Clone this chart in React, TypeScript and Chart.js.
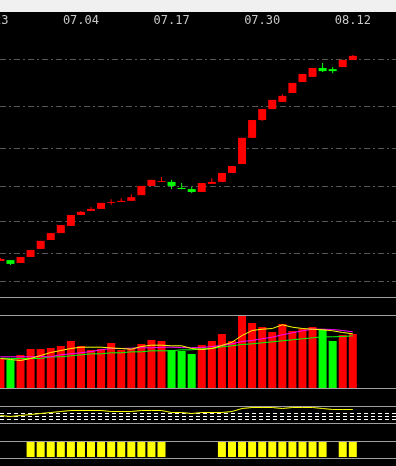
import React, { useEffect, useRef } from 'react';
import { Chart, registerables } from 'chart.js';

Chart.register(...registerables);

// ---------- data ----------
const TICK_INDEX = [-1, 8, 17, 26, 35];
const TICK_LABELS = ['06.23', '07.04', '07.17', '07.30', '08.12'];

const OPEN = [10.73, 10.76, 10.66, 10.87, 11.15, 11.46, 11.70, 11.95, 12.33, 12.47, 12.54, 12.75, 12.78, 12.82, 13.02, 13.34, 13.48, 13.48, 13.27, 13.23, 13.13, 13.41, 13.48, 13.79, 14.10, 15.01, 15.63, 16.01, 16.26, 16.57, 16.95, 17.13, 17.44, 17.40, 17.47, 17.72];
const HIGH = [10.83, 10.76, 10.87, 11.11, 11.43, 11.70, 11.98, 12.33, 12.47, 12.61, 12.75, 12.88, 12.92, 13.06, 13.34, 13.55, 13.65, 13.55, 13.44, 13.30, 13.44, 13.61, 13.79, 14.03, 15.01, 15.63, 16.01, 16.33, 16.53, 16.92, 17.23, 17.44, 17.61, 17.47, 17.72, 17.89];
const LOW = [10.73, 10.59, 10.66, 10.87, 11.15, 11.46, 11.70, 11.95, 12.33, 12.47, 12.54, 12.68, 12.78, 12.82, 13.02, 13.34, 13.48, 13.23, 13.23, 13.09, 13.13, 13.41, 13.48, 13.79, 14.10, 15.01, 15.60, 16.01, 16.26, 16.57, 16.95, 17.13, 17.30, 17.26, 17.47, 17.72];
const CLOSE = [10.80, 10.63, 10.87, 11.11, 11.43, 11.70, 11.98, 12.33, 12.44, 12.54, 12.75, 12.78, 12.82, 12.95, 13.34, 13.55, 13.51, 13.34, 13.23, 13.13, 13.44, 13.48, 13.79, 14.03, 15.01, 15.63, 16.01, 16.33, 16.47, 16.92, 17.23, 17.44, 17.33, 17.33, 17.72, 17.86];

const PRICE_GRID = [10.0, 11.0, 12.1, 13.31, 14.64, 16.11, 17.72];

const VOLUME = [29, 28, 33, 39, 39, 40, 42, 47, 42, 38, 39, 45, 38, 39, 44, 48, 47, 38, 37, 34, 43, 47, 54, 47, 72, 65, 61, 56, 64, 57, 59, 61, 59, 47, 53, 54];
const VOL_MA5 = [29.5, 28.5, 27.5, 29.5, 32.5, 35.5, 37.5, 39.5, 40.8, 40.8, 40.8, 40, 39.5, 38.8, 41.5, 42.8, 42.8, 42.2, 42.2, 39.5, 38.5, 39.5, 42.5, 45.8, 52.5, 57.5, 58.8, 59.5, 63.2, 60.8, 59.5, 58.8, 58.2, 57.2, 55.5, 54.2];
const VOL_MA10 = [31.2, 31.2, 31.2, 31.2, 31.5, 31.2, 33.2, 34.2, 35.2, 36.5, 38.2, 39.5, 39.5, 39.8, 40.2, 40.2, 40.8, 40.8, 40.5, 40.2, 40.5, 41.5, 42.5, 44.2, 46.5, 47.5, 49.2, 50.8, 53.2, 55.2, 57.2, 58.8, 58.8, 58.5, 57.5, 56.2];
const VOL_MA20 = [29.8, 29.5, 29.5, 29.5, 29.5, 31.2, 31.2, 32.2, 33.2, 34.2, 34.2, 35.2, 35.2, 36.2, 36.2, 37.2, 37.2, 37.2, 38.2, 38.2, 39.2, 39.5, 41.2, 42.2, 43.5, 44.2, 45.2, 46.2, 47.2, 48.2, 49.2, 50.2, 51.2, 51.2, 51.5, 52.2];

const INDICATOR = [7.5, 6.5, 7.5, 8.5, 9.5, 10.5, 11.5, 12.5, 12.5, 12.5, 12.5, 11.5, 11.5, 11.5, 12.5, 12.5, 12.5, 10.5, 10.5, 9.5, 10.5, 10.5, 10.5, 11.5, 14.5, 15.5, 15.5, 15.5, 14.5, 15.5, 15.5, 15.5, 14.5, 13.5, 13.5, 13.5];
const INDICATOR_LEVELS = [3.5, 6.5, 9.5];

const SIGNAL = [null, null, null, 1, 1, 1, 1, 1, 1, 1, 1, 1, 1, 1, 1, 1, 1, null, null, null, null, null, 1, 1, 1, 1, 1, 1, 1, 1, 1, 1, 1, null, 1, 1];

// ---------- styling ----------
const RED = '#ff0000';
const GREEN = '#00ff00';
const X_MIN = -0.04;
const X_MAX = 39.29;
const W = 396;

const isUp = (i: number) => CLOSE[i] >= OPEN[i];
const candleColor = (i: number) => (isUp(i) ? RED : GREEN);
const idx = OPEN.map((_, i) => i);

const baseOptions = () => ({
  responsive: false,
  maintainAspectRatio: false,
  animation: false as const,
  events: [] as any[],
  layout: { padding: 0 },
  plugins: { legend: { display: false }, tooltip: { enabled: false } },
});

const hiddenX = () => ({ type: 'linear' as const, min: X_MIN, max: X_MAX, display: false, offset: false });

function ChartCanvas({ top, height, config }: { top: number; height: number; config: () => any }) {
  const ref = useRef<HTMLCanvasElement>(null);
  useEffect(() => {
    const chart = new Chart(ref.current as HTMLCanvasElement, config());
    return () => chart.destroy();
  }, []);
  return (
    <canvas
      ref={ref}
      width={W}
      height={height}
      style={{ position: 'absolute', left: 0, top, width: W, height, display: 'block' }}
    />
  );
}

const mainConfig = () => ({
  type: 'bar',
  data: {
    datasets: [
      {
        label: 'body',
        data: idx.map((i) => ({ x: i, y: [OPEN[i], CLOSE[i]] })),
        backgroundColor: idx.map(candleColor),
        barThickness: 8,
        grouped: false,
        borderWidth: 0,
        inflateAmount: 0,
        order: 1,
      },
      {
        label: 'wick',
        data: idx.map((i) => ({ x: i, y: [LOW[i], HIGH[i]] })),
        backgroundColor: idx.map(candleColor),
        barThickness: 1,
        grouped: false,
        borderWidth: 0,
        inflateAmount: 0,
        order: 2,
      },
    ],
  },
  options: {
    ...baseOptions(),
    scales: {
      x: {
        type: 'linear',
        position: 'top',
        min: X_MIN,
        max: X_MAX,
        offset: false,
        grid: { display: false, drawTicks: false },
        border: { display: false },
        ticks: {
          autoSkip: false,
          maxRotation: 0,
          padding: 0,
          color: '#c8c8c8',
          font: { family: '"DejaVu Sans Mono", monospace', size: 12 },
          callback: (v: number) => {
            const k = TICK_INDEX.indexOf(v);
            return k >= 0 ? TICK_LABELS[k] : '';
          },
        },
        afterBuildTicks: (s: any) => {
          s.ticks = TICK_INDEX.map((v) => ({ value: v }));
        },
        afterFit: (s: any) => {
          s.height = 16;
          s.paddingLeft = 0;
          s.paddingRight = 0;
        },
      },
      y: {
        type: 'linear',
        min: 9.4786,
        max: 18.829,
        grid: { color: '#555555', lineWidth: 1, drawTicks: false },
        border: { display: false, dash: [6, 3, 2, 3] },
        ticks: { display: false },
        afterBuildTicks: (s: any) => {
          s.ticks = PRICE_GRID.map((v) => ({ value: v }));
        },
        afterFit: (s: any) => {
          s.width = 0;
        },
      },
    },
  },
});

const volumeConfig = () => {
  const line = (label: string, arr: number[], color: string) => ({
    type: 'line',
    label,
    data: idx.map((i) => ({ x: i, y: arr[i] })),
    borderColor: color,
    borderWidth: 1,
    pointRadius: 0,
    tension: 0,
    order: 1,
  });
  return {
    type: 'bar',
    data: {
      datasets: [
        line('MA5', VOL_MA5, '#ffff00'),
        line('MA10', VOL_MA10, '#ff00ff'),
        line('MA20', VOL_MA20, '#00ff00'),
        {
          type: 'bar',
          label: 'VOL',
          data: idx.map((i) => ({ x: i, y: VOLUME[i] })),
          backgroundColor: idx.map(candleColor),
          barThickness: 8,
          grouped: false,
          borderWidth: 0,
          inflateAmount: 0,
          order: 2,
        },
      ],
    },
    options: {
      ...baseOptions(),
      scales: {
        x: hiddenX(),
        y: { type: 'linear', min: 0, max: 72, display: false },
      },
    },
  };
};

const indicatorConfig = () => ({
  type: 'line',
  data: {
    datasets: [
      {
        label: 'IND',
        data: idx.map((i) => ({ x: i, y: INDICATOR[i] })),
        borderColor: '#ffff00',
        borderWidth: 1,
        pointRadius: 0,
        tension: 0,
      },
    ],
  },
  options: {
    ...baseOptions(),
    scales: {
      x: hiddenX(),
      y: {
        type: 'linear',
        min: 0,
        max: 16,
        grid: { color: '#ffffff', lineWidth: 1, drawTicks: false },
        border: { display: false, dash: [4, 3] },
        ticks: { display: false },
        afterBuildTicks: (s: any) => {
          s.ticks = INDICATOR_LEVELS.map((v) => ({ value: v }));
        },
        afterFit: (s: any) => {
          s.width = 0;
        },
      },
    },
  },
});

const signalConfig = () => ({
  type: 'bar',
  data: {
    datasets: [
      {
        label: 'SIG',
        data: idx.map((i) => ({ x: i, y: SIGNAL[i] })),
        backgroundColor: '#ffff00',
        barThickness: 8,
        borderWidth: 0,
        inflateAmount: 0,
      },
    ],
  },
  options: {
    ...baseOptions(),
    scales: {
      x: hiddenX(),
      y: { type: 'linear', min: 0, max: 1, display: false },
    },
  },
});

const SEPARATORS = [297, 315, 388, 406, 423, 441, 458];

export default function App() {
  return (
    <div
      style={{
        position: 'fixed',
        left: 0,
        top: 0,
        width: W,
        height: 466,
        background: '#000000',
        overflow: 'hidden',
      }}
    >
      <div style={{ position: 'absolute', left: 0, top: 0, width: W, height: 12, background: '#f0f0f0' }} />
      {SEPARATORS.map((y) => (
        <div key={y} style={{ position: 'absolute', left: 0, top: y, width: W, height: 1, background: '#a0a0a0' }} />
      ))}
      <ChartCanvas top={12} height={285} config={mainConfig} />
      <ChartCanvas top={316} height={72} config={volumeConfig} />
      <ChartCanvas top={407} height={16} config={indicatorConfig} />
      <ChartCanvas top={442} height={15} config={signalConfig} />
    </div>
  );
}
